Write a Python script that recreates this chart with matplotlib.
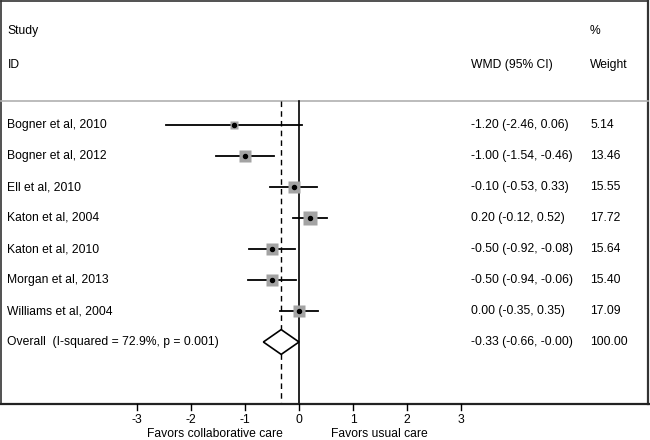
import matplotlib.pyplot as plt
import numpy as np

plt.rcParams['font.family'] = ['Liberation Sans', 'DejaVu Sans']

# data
studies = ['Bogner et al, 2010', 'Bogner et al, 2012', 'Ell et al, 2010',
           'Katon et al, 2004', 'Katon et al, 2010', 'Morgan et al, 2013',
           'Williams et al, 2004']
wmd = [-1.20, -1.00, -0.10, 0.20, -0.50, -0.50, 0.00]
lo = [-2.46, -1.54, -0.53, -0.12, -0.92, -0.94, -0.35]
hi = [0.06, -0.46, 0.33, 0.52, -0.08, -0.06, 0.35]
weights = [5.14, 13.46, 15.55, 17.72, 15.64, 15.40, 17.09]
overall_label = 'Overall  (I-squared = 72.9%, p = 0.001)'
overall = (-0.33, -0.66, -0.00)
ticks = [-3, -2, -1, 0, 1, 2, 3]

fs = 8.7
fig = plt.figure(figsize=(6.5, 4.4), dpi=100)
ax = fig.add_axes([0, 0, 1, 1])
ax.set_xlim(-299 / 54, 351 / 54)
ax.set_ylim(315 / 31, -125 / 31)
ax.axis('off')

n = len(studies)
rows = np.arange(n)
y_head = -0.774
y_axis = 9.0
y_top = -4.0
x0, x1 = ax.get_xlim()
xl, xr = x0 + 1.2 / 54, x1 - 2.2 / 54

# frame above the axis
ax.plot([xl, xl], [y_top, y_axis], color='#333333', lw=1.2)
ax.plot([xr, xr], [y_top, y_axis], color='#333333', lw=1.6)
ax.plot([xl, xr], [y_top, y_top], color='#333333', lw=1.2)
ax.plot([xl, xr], [y_head, y_head], color='#b0b0b0', lw=1.2)

# reference lines
ax.plot([0, 0], [y_head, y_axis], color='black', lw=1.2)
ax.plot([overall[0], overall[0]], [y_head, y_axis], color='black', lw=1.0,
        ls=(0, (4, 3)))

# studies
for i in rows:
    ax.plot([lo[i], hi[i]], [i, i], color='black', lw=1.3, zorder=2)
    side = 3.1 * np.sqrt(weights[i]) * 0.72
    ax.plot(wmd[i], i, marker='s', ms=side, color='#a3a3a3', mec='none', zorder=3)
    ax.plot(wmd[i], i, marker='o', ms=2.9, color='black', zorder=4)
    ax.text(-5.4, i, studies[i], fontsize=fs, va='center')
    ax.text(3.185, i, f'{wmd[i]:.2f} ({lo[i]:.2f}, {hi[i]:.2f})', fontsize=fs, va='center')
    ax.text(5.39, i, f'{weights[i]:.2f}', fontsize=fs, va='center')

# overall diamond
yo = n
dh = 0.4
ax.fill([overall[1], overall[0], overall[2], overall[0]],
        [yo, yo - dh, yo, yo + dh], facecolor='white', edgecolor='black', lw=1.2, zorder=3)
ax.text(-5.4, yo, overall_label, fontsize=fs, va='center')
ax.text(3.185, yo, f'{overall[0]:.2f} ({overall[1]:.2f}, -0.00)', fontsize=fs, va='center')
ax.text(5.39, yo, '100.00', fontsize=fs, va='center')

# header
ax.text(-5.4, -3.02, 'Study', fontsize=fs, va='center')
ax.text(-5.4, -1.92, 'ID', fontsize=fs, va='center')
ax.text(3.185, -1.92, 'WMD (95% CI)', fontsize=fs, va='center')
ax.text(5.39, -3.02, '%', fontsize=fs, va='center')
ax.text(5.39, -1.92, 'Weight', fontsize=fs, va='center')

# axis line, ticks
ax.plot([x0, x1], [y_axis, y_axis], color='#222222', lw=1.6, clip_on=False)
for t in ticks:
    ax.plot([t, t], [y_axis, y_axis + 0.19], color='black', lw=1)
    ax.text(t, 9.52, f'{t}', fontsize=fs, ha='center', va='center')
ax.text(-1.55, 9.97, 'Favors collaborative care', fontsize=fs, ha='center', va='center')
ax.text(1.48, 9.97, 'Favors usual care', fontsize=fs, ha='center', va='center')

fig.savefig('out.png', dpi=100)
